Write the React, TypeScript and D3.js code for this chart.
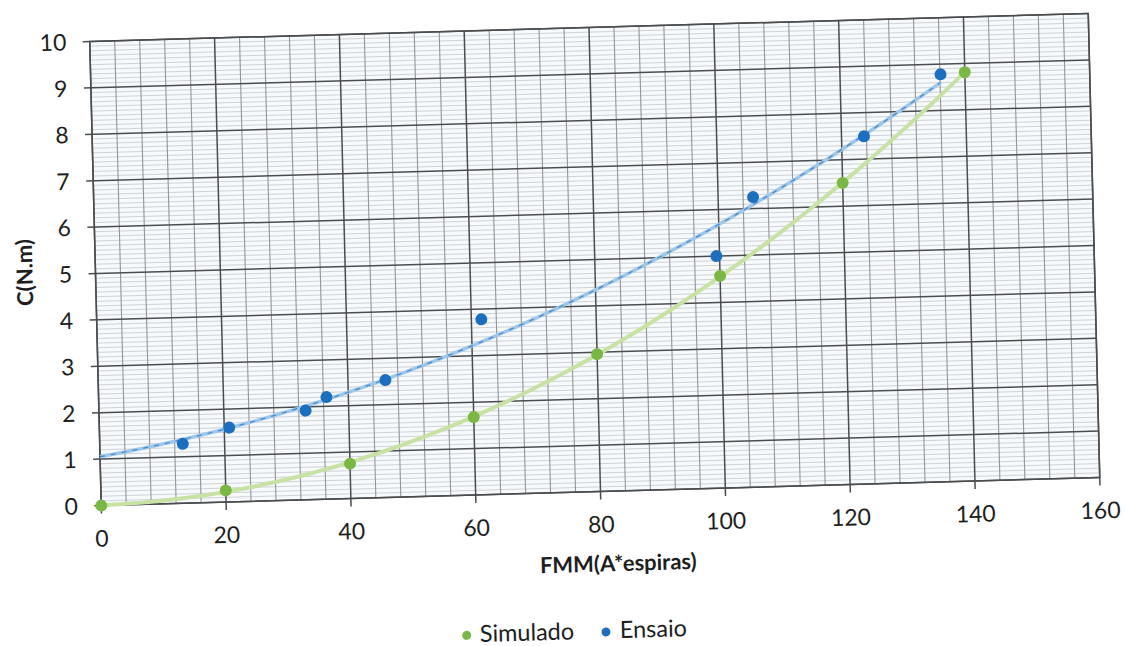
import React from "react";
import * as d3 from "d3";

// ---- data ----
const xTickValues = [0, 20, 40, 60, 80, 100, 120, 140, 160];
const yTickValues = [0, 1, 2, 3, 4, 5, 6, 7, 8, 9, 10];

const fmmSimulado = [0, 20, 40, 60, 80, 100, 120, 140];
const cSimulado = [0, 0.25, 0.75, 1.68, 2.96, 4.57, 6.5, 8.81];

const fmmEnsaio = [13.3, 20.8, 33.1, 36.5, 46, 61.6, 99.5, 105.6, 123.6, 136.1];
const cEnsaio = [1.28, 1.6, 1.92, 2.2, 2.53, 3.78, 5.0, 6.25, 7.49, 8.78];

const seriesNames = ["Simulado", "Ensaio"];
const xTitle = "FMM(A*espiras)";
const yTitle = "C(N.m)";

// ---- layout ----
const L = 92, T = 28, W = 1000, H = 464;
const FONT = "Lato, 'Open Sans', sans-serif";
const GREEN = "#79b843";
const BLUE = "#1b6fc0";

// least-squares polynomial (order 2) trendline, as the spreadsheet draws it
function quadFit(xs: number[], ys: number[]) {
  const n = 3;
  const A: number[][] = Array.from({ length: n }, () => new Array(n + 1).fill(0));
  for (let k = 0; k < xs.length; k++) {
    for (let i = 0; i < n; i++) {
      for (let j = 0; j < n; j++) A[i][j] += Math.pow(xs[k], i + j);
      A[i][n] += ys[k] * Math.pow(xs[k], i);
    }
  }
  for (let i = 0; i < n; i++) {
    let p = i;
    for (let r = i + 1; r < n; r++) if (Math.abs(A[r][i]) > Math.abs(A[p][i])) p = r;
    [A[i], A[p]] = [A[p], A[i]];
    for (let r = 0; r < n; r++) {
      if (r === i) continue;
      const f = A[r][i] / A[i][i];
      for (let c = i; c <= n; c++) A[r][c] -= f * A[i][c];
    }
  }
  const coef = A.map((row, i) => row[n] / row[i]);
  return (x: number) => coef[0] + coef[1] * x + coef[2] * x * x;
}

export default function App() {
  const x = d3.scaleLinear().domain([0, 160]).range([L, L + W]);
  const y = d3.scaleLinear().domain([0, 10]).range([T + H, T]);

  const minorY = d3.range(1, 100).filter((v) => v % 10 !== 0).map((v) => v / 10);
  const minorX = d3.range(4, 160, 4).filter((v) => v % 20 !== 0);

  const fitS = quadFit(fmmSimulado, cSimulado);
  const fitE = quadFit(fmmEnsaio, cEnsaio);
  const maxS = d3.max(fmmSimulado) as number;
  const maxE = d3.max(fmmEnsaio) as number;
  const samplesS = d3.range(0, maxS, 1).concat([maxS]).map((v) => [v, fitS(v)] as [number, number]);
  const samplesE = d3.range(0, maxE, 1).concat([maxE]).map((v) => [v, fitE(v)] as [number, number]);
  const line = d3
    .line<[number, number]>()
    .x((d) => x(d[0]))
    .y((d) => y(d[1]))
    .curve(d3.curveMonotoneX);

  return (
    <svg
      width={1126}
      height={646}
      style={{ position: "absolute", left: 0, top: 0, background: "#ffffff" }}
    >
      <g transform="matrix(0.9985,-0.028,0.0248,1,-2.81,16.08)">
        <rect x={L} y={T} width={W} height={H} fill="#f7fafc" />
        {minorY.map((v) => (
          <line key={"my" + v} x1={L} x2={L + W} y1={y(v)} y2={y(v)} stroke="#c6c9cc" strokeWidth={0.8} />
        ))}
        {minorX.map((v) => (
          <line key={"mx" + v} x1={x(v)} x2={x(v)} y1={T} y2={T + H} stroke="#939597" strokeWidth={1.1} />
        ))}
        {yTickValues.map((v) => (
          <line key={"Y" + v} x1={L - 7} x2={L + W} y1={y(v)} y2={y(v)} stroke="#4a4c4e" strokeWidth={1.5} />
        ))}
        {xTickValues.map((v) => (
          <line key={"X" + v} x1={x(v)} x2={x(v)} y1={T} y2={T + H + 8} stroke="#4a4c4e" strokeWidth={1.5} />
        ))}
        <rect x={L} y={T} width={W} height={H} fill="none" stroke="#4a4c4e" strokeWidth={1.5} />

        {/* trendlines */}
        <path d={line(samplesS) || ""} fill="none" stroke="#c8e2a3" strokeWidth={4} />
        <path d={line(samplesE) || ""} fill="none" stroke="#9cc8ee" strokeWidth={3.5} />
        <path d={line(samplesE) || ""} fill="none" stroke="#4a86c6" strokeWidth={1.2} strokeDasharray="5 6" />

        {/* markers */}
        {fmmSimulado.map((v, i) => (
          <circle key={"s" + i} cx={x(v)} cy={y(cSimulado[i])} r={6} fill={GREEN} />
        ))}
        {fmmEnsaio.map((v, i) => (
          <circle key={"e" + i} cx={x(v)} cy={y(cEnsaio[i])} r={6} fill={BLUE} />
        ))}

        {/* tick labels */}
        {yTickValues.map((v) => (
          <text key={"yl" + v} x={L - 23.5} y={y(v) + 8.2} textAnchor="end" fontFamily={FONT} fontSize={23} fill="#1e1e1e">
            {v}
          </text>
        ))}
        {xTickValues.map((v) => (
          <text key={"xl" + v} x={x(v)} y={T + H + 41} textAnchor="middle" fontFamily={FONT} fontSize={23} fill="#1e1e1e">
            {v}
          </text>
        ))}

        {/* axis titles */}
        <text x={608} y={572} textAnchor="middle" fontFamily={FONT} fontWeight="bold" fontSize={22} fill="#1e1e1e">
          {xTitle}
        </text>
        <text
          transform="translate(29,257) rotate(-90)"
          textAnchor="middle"
          fontFamily={FONT}
          fontWeight="bold"
          fontSize={22}
          fill="#1e1e1e"
        >
          {yTitle}
        </text>

        {/* legend */}
        <circle cx={454.5} cy={632} r={4.5} fill={GREEN} />
        <text x={467.7} y={639} fontFamily={FONT} fontSize={23.5} fill="#1e1e1e">
          {seriesNames[0]}
        </text>
        <circle cx={594} cy={632.5} r={4.5} fill={BLUE} />
        <text x={607.9} y={639} fontFamily={FONT} fontSize={23.5} fill="#1e1e1e">
          {seriesNames[1]}
        </text>
      </g>
    </svg>
  );
}
